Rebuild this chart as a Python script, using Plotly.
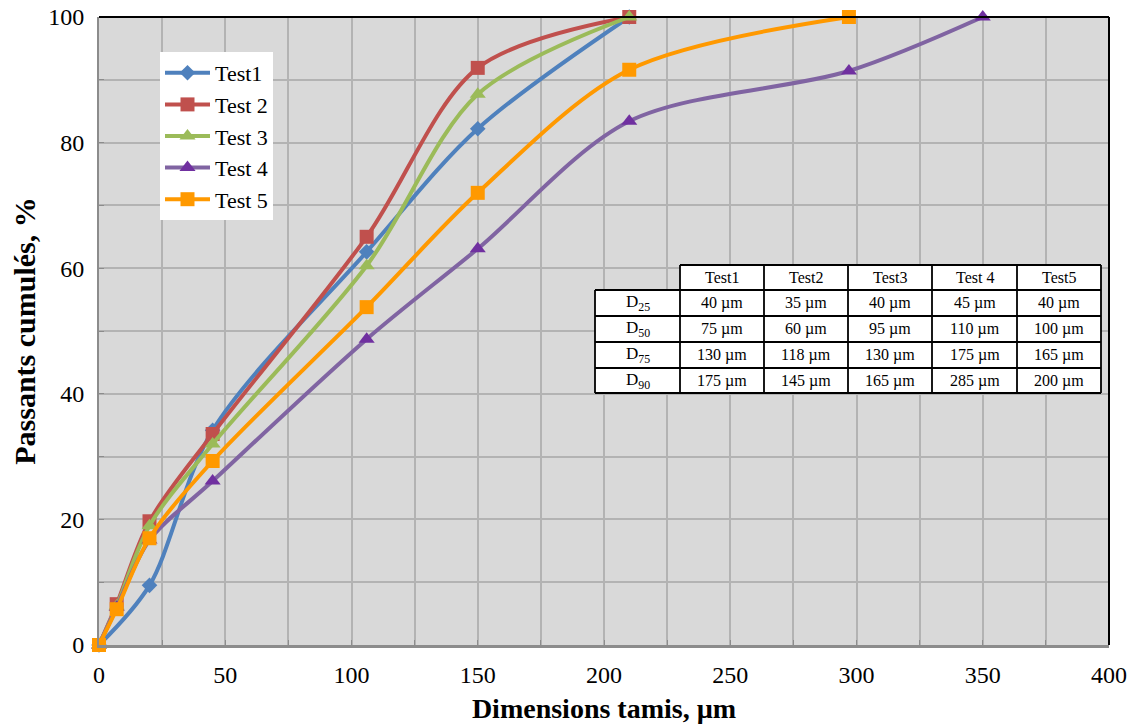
import plotly.graph_objects as go

# ---- data ----
x_short = [0, 7, 20, 45, 106, 150, 210]
x_t1 = [0, 20, 45, 106, 150, 210]
x_t5 = [0, 7, 20, 45, 106, 150, 210, 297]
x_t4 = [0, 7, 20, 45, 106, 150, 210, 297, 350]

test1 = [0, 9.5, 34.2, 62.6, 82.2, 100]
test2 = [0, 6.5, 19.7, 33.6, 65.0, 91.9, 100]
test3 = [0, 6.2, 19.0, 32.0, 60.4, 87.7, 100]
test4 = [0, 6.0, 16.7, 26.1, 48.7, 63.1, 83.4, 91.4, 100]
test5 = [0, 5.7, 17.0, 29.3, 53.8, 72.0, 91.6, 100]

names = ["Test1", "Test 2", "Test 3", "Test 4", "Test 5"]
line_colors = ["#4F81BD", "#C0504D", "#9BBB59", "#8064A2", "#FF9900"]
marker_colors = ["#4F81BD", "#C0504D", "#9BBB59", "#7030A0", "#FF9900"]
symbols = ["diamond", "square", "triangle-up", "triangle-up", "square"]
msizes = [12, 14, 14, 14, 14]
xs = [x_t1, x_short, x_short, x_t4, x_t5]
ys = [test1, test2, test3, test4, test5]

table_cols = ["Test1", "Test2", "Test3", "Test 4", "Test5"]
table_rows = ["D<sub>25</sub>", "D<sub>50</sub>", "D<sub>75</sub>", "D<sub>90</sub>"]
table_vals = [
    ["40 µm", "35 µm", "40 µm", "45 µm", "40 µm"],
    ["75 µm", "60 µm", "95 µm", "110 µm", "100 µm"],
    ["130 µm", "118 µm", "130 µm", "175 µm", "165 µm"],
    ["175 µm", "145 µm", "165 µm", "285 µm", "200 µm"],
]

FONT = "Liberation Serif, Times New Roman, serif"
OFF = 8  # page body margin
W, H = 1136 - OFF, 724 - OFF
# plot area in screenshot pixels: x 99..1109, y 17..645
SL, SR, ST, SB = 99, 1109, 17, 645
L, T = SL - OFF, ST - OFF
R, B = W - (SR - OFF), H - (SB - OFF)
PW, PH = SR - SL, SB - ST

def px(xpix):
    return (xpix - SL) / PW

def py(ypix):
    return (SB - ypix) / PH

fig = go.Figure()
for i in range(5):
    fig.add_trace(go.Scatter(
        x=xs[i], y=ys[i], name=names[i], mode="lines+markers",
        line=dict(color=line_colors[i], width=4, shape="spline", smoothing=0.9),
        marker=dict(symbol=symbols[i], size=msizes[i], color=marker_colors[i],
                    line=dict(width=0)),
        cliponaxis=False,
    ))

shapes = []
annotations = []

# table geometry (screenshot pixels)
col_edges = [595, 680, 764, 848, 932, 1017, 1101]
row_edges = [265, 290, 316, 342, 368, 393]
shapes.append(dict(type="rect", xref="paper", yref="paper",
                   x0=px(col_edges[1]), x1=px(col_edges[-1]),
                   y0=py(row_edges[1]), y1=py(row_edges[0]),
                   fillcolor="white", line=dict(width=0), layer="above"))
shapes.append(dict(type="rect", xref="paper", yref="paper",
                   x0=px(col_edges[0]), x1=px(col_edges[-1]),
                   y0=py(row_edges[-1]), y1=py(row_edges[1]),
                   fillcolor="white", line=dict(width=0), layer="above"))
lc = dict(color="black", width=1.8)
shapes.append(dict(type="line", xref="paper", yref="paper", x0=px(col_edges[1]), x1=px(col_edges[-1]),
                   y0=py(row_edges[0]), y1=py(row_edges[0]), line=lc, layer="above"))
for r in row_edges[1:]:
    shapes.append(dict(type="line", xref="paper", yref="paper", x0=px(col_edges[0]), x1=px(col_edges[-1]),
                       y0=py(r), y1=py(r), line=lc, layer="above"))
shapes.append(dict(type="line", xref="paper", yref="paper", x0=px(col_edges[0]), x1=px(col_edges[0]),
                   y0=py(row_edges[1]), y1=py(row_edges[-1]), line=lc, layer="above"))
for c in col_edges[1:]:
    shapes.append(dict(type="line", xref="paper", yref="paper", x0=px(c), x1=px(c),
                       y0=py(row_edges[0]), y1=py(row_edges[-1]), line=lc, layer="above"))

tfont = dict(family=FONT, size=16, color="black")
for j, name in enumerate(table_cols):
    cx = (col_edges[j + 1] + col_edges[j + 2]) / 2
    cy = (row_edges[0] + row_edges[1]) / 2
    annotations.append(dict(xref="paper", yref="paper", x=px(cx), y=py(cy), text=name,
                            showarrow=False, font=tfont, xanchor="center", yanchor="middle"))
for i, rname in enumerate(table_rows):
    cy = (row_edges[i + 1] + row_edges[i + 2]) / 2
    cx = (col_edges[0] + col_edges[1]) / 2
    annotations.append(dict(xref="paper", yref="paper", x=px(cx), y=py(cy), text=rname,
                            showarrow=False, font=dict(family=FONT, size=17, color="black"),
                            xanchor="center", yanchor="middle"))
    for j, v in enumerate(table_vals[i]):
        cx = (col_edges[j + 1] + col_edges[j + 2]) / 2
        annotations.append(dict(xref="paper", yref="paper", x=px(cx), y=py(cy), text=v,
                                showarrow=False, font=tfont, xanchor="center", yanchor="middle"))

shapes.append(dict(type="line", xref="paper", yref="paper", x0=0, x1=1, y0=1, y1=1,
                   line=dict(color="black", width=2)))
shapes.append(dict(type="line", xref="paper", yref="paper", x0=1, x1=1, y0=0, y1=1,
                   line=dict(color="black", width=2)))

grid_c = "#B3B3B3"
fig.update_layout(
    width=W, height=H,
    margin=dict(l=L, r=R, t=T, b=B, autoexpand=False),
    paper_bgcolor="white", plot_bgcolor="#D9D9D9",
    font=dict(family=FONT, color="black"),
    showlegend=True,
    legend=dict(x=px(160), y=py(52), xanchor="left", yanchor="top",
                bgcolor="white", borderwidth=0,
                font=dict(family=FONT, size=22, color="black"),
                tracegroupgap=0, itemwidth=45),
    xaxis=dict(range=[0, 400], dtick=50, tick0=0, showgrid=True, gridcolor=grid_c, gridwidth=1.5,
               showline=True, linecolor="#8C8C8C", linewidth=3, ticks="inside", ticklen=5,
               tickcolor="#8C8C8C", zeroline=False, automargin=False,
               ticklabeloverflow="allow", ticklabelstandoff=6,
               minor=dict(dtick=25, showgrid=True, gridcolor=grid_c, gridwidth=1.5,
                          ticks="inside", ticklen=5, tickcolor="#8C8C8C"),
               tickfont=dict(family=FONT, size=24),
               title=dict(text="<b>Dimensions tamis, µm</b>", font=dict(family=FONT, size=28),
                          standoff=18)),
    yaxis=dict(range=[0, 100], dtick=20, tick0=0, showgrid=True, gridcolor=grid_c, gridwidth=1.5,
               showline=True, linecolor="#8C8C8C", linewidth=2, ticks="inside", ticklen=5,
               tickcolor="#8C8C8C", zeroline=False, automargin=False,
               ticklabeloverflow="allow", ticklabelstandoff=8,
               minor=dict(dtick=10, showgrid=True, gridcolor=grid_c, gridwidth=1.5,
                          ticks="inside", ticklen=5, tickcolor="#8C8C8C"),
               tickfont=dict(family=FONT, size=24),
               title=dict(text="<b>Passants cumulés, %</b>", font=dict(family=FONT, size=30),
                          standoff=22)),
    shapes=shapes,
    annotations=annotations,
)

fig.write_html("out.html")
